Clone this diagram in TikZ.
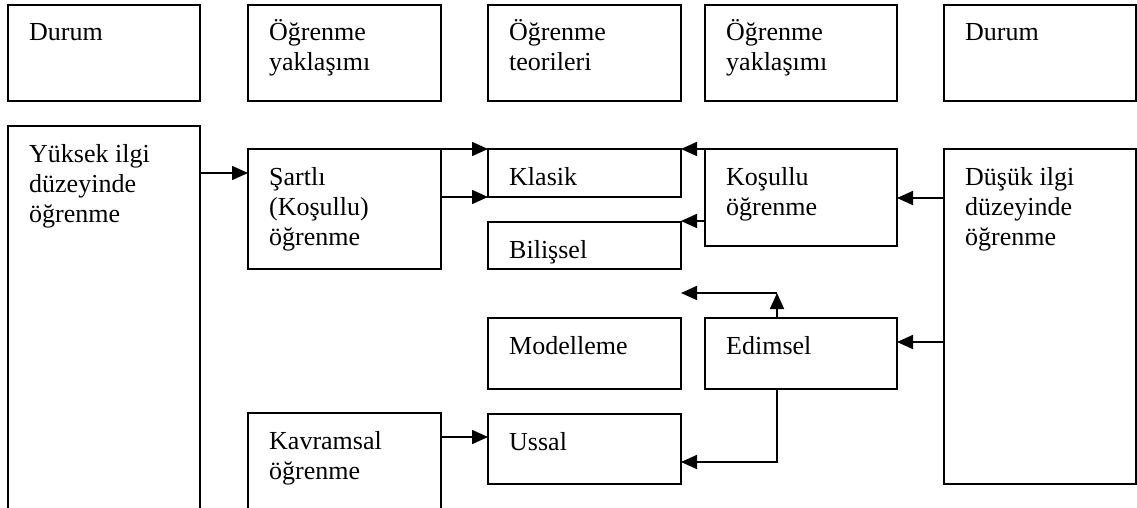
\documentclass[tikz,border=0pt]{standalone}
\usepackage{fontspec}
\setmainfont{Liberation Serif}
\usetikzlibrary{arrows.meta}

% box: name, left, top, right, bottom (in px-like units, y grows downward)
\newcommand\boxat[5]{%
  \node[box, minimum width={(#4)-(#2)}, minimum height={(#5)-(#3)}]
    (#1) at ({((#2)+(#4))/2},{((#3)+(#5))/2}) {};}
% label inside a box, first baseline fixed below its top-left corner
\newcommand\boxtext[2]{%
  \node[txt] (#1-t) at ([shift={(21pt,-36pt)}]#1.north west)
    {\begin{tabular}[t]{@{}l@{}}#2\end{tabular}};}

\begin{document}
\begin{tikzpicture}[x=1pt, y=-1pt,
  box/.style={draw, line width=1.6pt, inner sep=0pt, outer sep=0pt},
  txt/.style={anchor=base west, inner sep=0pt,
    font=\fontsize{26}{30}\selectfont},
  arr/.style={line width=1.6pt, -{Triangle[length=16pt,width=14pt]}}]
\useasboundingbox (0,0) rectangle (1137,508);
\clip (0,0) rectangle (1137,508);

% header row
\boxat{h1}{8}{5}{200}{101}
\boxat{h2}{248}{5}{441}{101}
\boxat{h3}{488}{5}{681}{101}
\boxat{h4}{705}{5}{897}{101}
\boxat{h5}{944}{5}{1136}{101}
\boxtext{h1}{Durum}
\boxtext{h2}{Öğrenme\\yaklaşımı}
\boxtext{h3}{Öğrenme\\teorileri}
\boxtext{h4}{Öğrenme\\yaklaşımı}
\boxtext{h5}{Durum}

% body
\boxat{yuk}{8}{126}{200}{530}
\boxat{sart}{248}{149}{441}{269}
\boxat{kav}{248}{413}{441}{530}
\boxat{kla}{488}{149}{681}{197}
\boxat{bil}{488}{222}{681}{269}
\boxat{mod}{488}{318}{681}{389}
\boxat{uss}{488}{414}{681}{484}
\boxat{kos}{705}{149}{897}{246}
\boxat{edi}{705}{318}{897}{389}
\boxat{dus}{944}{149}{1136}{484}

\boxtext{yuk}{Yüksek ilgi\\düzeyinde\\öğrenme}
\boxtext{sart}{Şartlı\\(Koşullu)\\öğrenme}
\boxtext{kav}{Kavramsal\\öğrenme}
\boxtext{kla}{Klasik}
\boxtext{bil}{Bilişsel}
\boxtext{mod}{Modelleme}
\boxtext{uss}{Ussal}
\boxtext{kos}{Koşullu\\öğrenme}
\boxtext{edi}{Edimsel}
\boxtext{dus}{Düşük ilgi\\düzeyinde\\öğrenme}

% connectors
\coordinate (up) at (777,293);
\coordinate (dn) at (777,462);

\draw[arr] (yuk.east |- 0,173) -- (sart.west |- 0,173);
\draw[arr] (sart.north east) -- (kla.north west);
\draw[arr] (sart.east |- kla.south) -- (kla.south west);
\draw[arr] (kos.north west) -- (kla.north east);
\draw[arr] (kos.west |- 0,221) -- (bil.east |- 0,221);
\draw[arr] (dus.west |- 0,198) -- (kos.east |- 0,198);
\draw[arr] (dus.west |- 0,342) -- (edi.east |- 0,342);
\draw[arr] (edi.north -| up) -- (up);
\draw[arr] (up) -- (up -| mod.east);
\draw[arr] (edi.south -| dn) -- (dn) -- (uss.east |- dn);
\draw[arr] (kav.east |- 0,437) -- (uss.west |- 0,437);
\end{tikzpicture}
\end{document}
